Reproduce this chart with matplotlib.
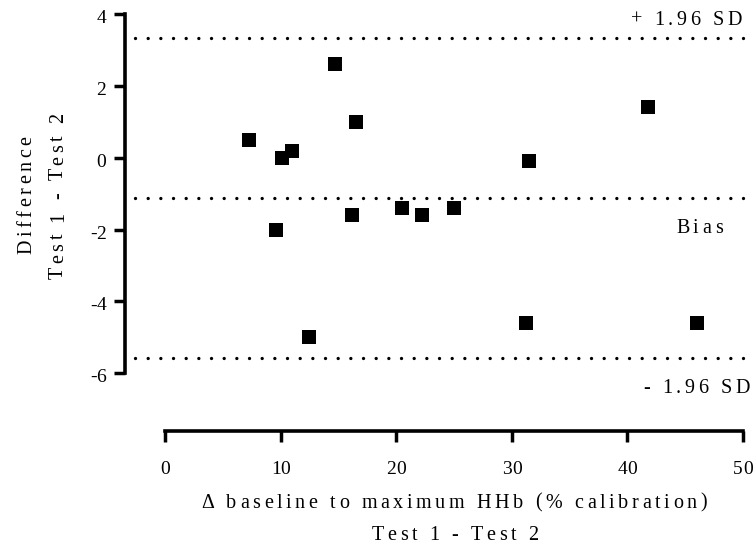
import matplotlib
matplotlib.use("Agg")
import matplotlib.pyplot as plt
from matplotlib import font_manager, transforms
from matplotlib.font_manager import FontProperties
from matplotlib.ft2font import FT2Font

try:
    from matplotlib.ft2font import LoadFlags
    NO_HINT = LoadFlags.NO_HINTING
except ImportError:  # older matplotlib
    from matplotlib.ft2font import LOAD_NO_HINTING as NO_HINT

W, H, DPI = 756, 545, 100

# Bland-Altman data: mean of the two tests vs. their difference
mean_hhb = [7.3, 10.1, 11.0, 9.6, 12.5, 14.7, 16.5, 16.2, 20.5, 22.2, 25.0, 31.5, 31.2, 41.8, 46.0]
diff = [0.5, 0.0, 0.2, -2.0, -5.0, 2.6, 1.0, -1.6, -1.4, -1.6, -1.4, -0.1, -4.6, 1.4, -4.6]
bias = -1.11
upper_loa = 3.33
lower_loa = -5.57
x_ticks = [0, 10, 20, 30, 40, 50]
y_ticks = [-6, -4, -2, 0, 2, 4]
x_label = ["\u0394 baseline to maximum HHb (% calibration)", "Test 1 - Test 2"]
y_label = ["Difference", "Test 1 - Test 2"]

FAMILY = "Liberation Serif"
FS = 14.5
TRACK = 3.6
TICK_FS = 14

fig = plt.figure(figsize=(W / DPI, H / DPI), dpi=DPI)
ax = fig.add_axes([124.5 / W, 1 - 431.3 / H, (743 - 124.5) / W, (431.3 - 14) / H])
ax.set_xlim(-3.5, 50)
ax.set_ylim(-7.614, 4)

for side in ("top", "right"):
    ax.spines[side].set_visible(False)
ax.spines["left"].set_bounds(min(y_ticks), max(y_ticks))
ax.spines["bottom"].set_bounds(min(x_ticks), max(x_ticks))
for side in ("left", "bottom"):
    ax.spines[side].set_linewidth(2.6)
ax.set_xticks(x_ticks)
ax.set_yticks(y_ticks)
ax.tick_params(direction="out", length=8, width=2.5, color="black",
               labelleft=False, labelbottom=False)

# limits of agreement and bias as dotted lines
for level in (upper_loa, bias, lower_loa):
    ax.plot([-2.6, 50], [level, level], color="black", lw=2.4,
            linestyle=(0, (0.01, 3.79)), dash_capstyle="round", clip_on=False)

ax.plot(mean_hhb, diff, "s", color="black", ms=9.6, mew=0, clip_on=False, zorder=3)

# ---- letter-spaced text helpers ----
_ft = FT2Font(font_manager.findfont(FontProperties(family=FAMILY)))


def advances(s, size):
    _ft.set_size(size, DPI)
    return [_ft.load_char(ord(c), flags=NO_HINT).linearHoriAdvance / 65536 for c in s]


def tracked_text(x, y, s, transform, size=FS, track=TRACK, ha="center", vertical=False):
    adv = advances(s, size)
    total = sum(adv) + track * (len(s) - 1)
    pos = {"left": 0.0, "center": -total / 2, "right": -total}[ha]
    for c, a in zip(s, adv):
        if c != " ":
            if vertical:
                tr = transforms.offset_copy(transform, fig, x=0, y=pos, units="dots")
            else:
                tr = transforms.offset_copy(transform, fig, x=pos, y=0, units="dots")
            fig.text(x, y, c, transform=tr, fontsize=size, family=FAMILY,
                     ha="left", va="baseline", rotation=90 if vertical else 0,
                     rotation_mode="anchor", color="black")
        pos += a + track


# pixel coordinates measured from the top-left corner of the figure
top_px = transforms.Affine2D().scale(1, -1).translate(0, H)

# tick labels
xt = transforms.blended_transform_factory(ax.transData, top_px)
for v in x_ticks:
    tracked_text(v, 474, str(v), xt, size=TICK_FS, track=0)
yt = transforms.offset_copy(transforms.blended_transform_factory(top_px, ax.transData),
                            fig, x=0, y=-9, units="dots")
for v in y_ticks:
    tracked_text(106, v, str(v), yt, size=TICK_FS, track=0, ha="right")

# axis titles
tracked_text(454, 507.5, x_label[0], top_px)
tracked_text(455, 539.5, x_label[1], top_px)
tracked_text(31.5, 195, y_label[0], top_px, vertical=True)
tracked_text(63, 196, y_label[1], top_px, vertical=True)

# line annotations
tracked_text(742, 25, "+ 1.96 SD", top_px, ha="right")
tracked_text(676, 233, "Bias", top_px, ha="left")
tracked_text(750, 392.7, "- 1.96 SD", top_px, ha="right")

fig.savefig("out.png", dpi=DPI)
